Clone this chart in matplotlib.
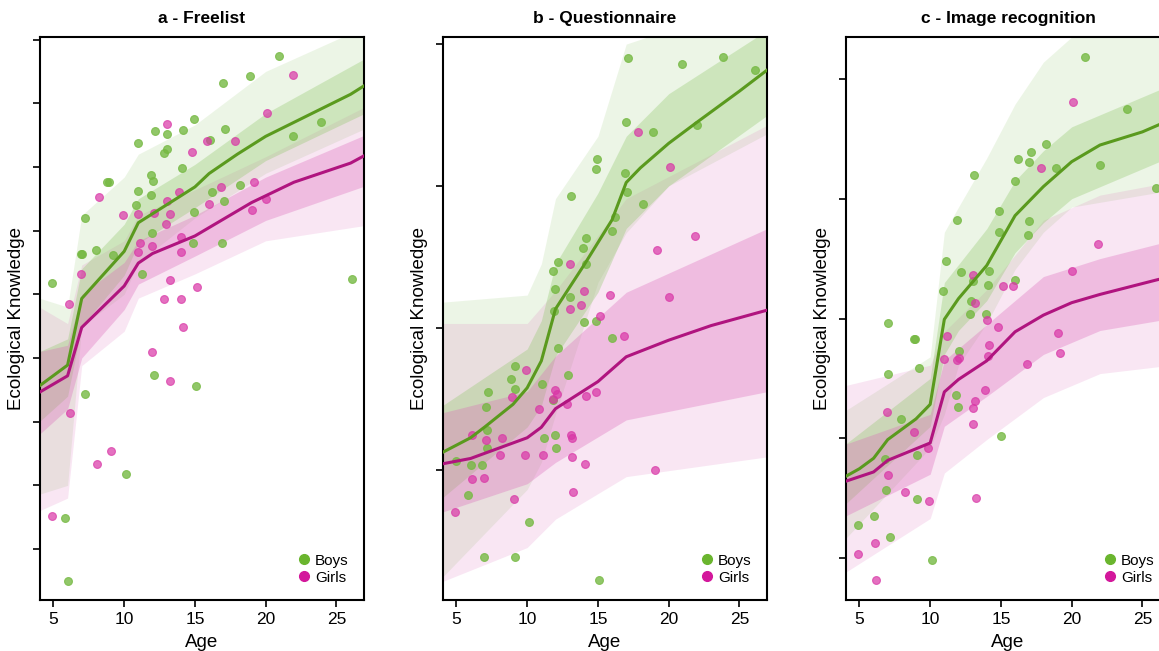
import matplotlib
matplotlib.use("Agg")
import matplotlib.pyplot as plt
from matplotlib.lines import Line2D
import numpy as np

plt.rcParams['font.family'] = ['Liberation Sans', 'DejaVu Sans']

# ---- a - Freelist ----
a_boys_age = [20.95, 18.88, 16.95, 14.93, 12.18, 13.05, 14.15, 17.12, 23.89, 21.96,
              16.06, 10.98, 13.0, 12.81, 14.11, 11.87, 12.06, 8.93, 8.81, 18.18,
              10.98, 11.87, 16.22, 10.86, 17.05, 7.21, 14.91, 11.96, 7.99, 7.05,
              6.93, 9.21, 14.88, 16.91, 11.24, 4.93, 26.13, 12.13, 15.07, 7.21,
              10.1, 5.85, 6.06]
a_boys_val = [1.87, 1.71, 1.66, 1.38, 1.28, 1.26, 1.29, 1.30, 1.35, 1.24,
              1.21, 1.19, 1.14, 1.11, 0.99, 0.94, 0.89, 0.88, 0.88, 0.86,
              0.81, 0.78, 0.80, 0.70, 0.73, 0.60, 0.65, 0.48, 0.35, 0.32,
              0.32, 0.31, 0.40, 0.40, 0.16, 0.09, 0.12, -0.63, -0.72, -0.78,
              -1.41, -1.76, -2.25]
a_girls_age = [21.92, 20.08, 13.02, 15.87, 17.85, 14.81, 19.19, 16.84, 13.85, 8.2,
               19.99, 13.05, 15.96, 19.0, 12.13, 13.21, 10.95, 9.92, 12.98, 14.04,
               11.12, 11.94, 14.01, 10.98, 6.98, 13.21, 15.16, 12.81, 14.01, 6.1,
               14.13, 11.94, 13.21, 6.15, 9.09, 8.1, 4.88]
a_girls_val = [1.72, 1.42, 1.34, 1.20, 1.20, 1.12, 0.88, 0.84, 0.80, 0.76,
               0.75, 0.73, 0.71, 0.66, 0.64, 0.63, 0.63, 0.62, 0.55, 0.45,
               0.40, 0.38, 0.33, 0.33, 0.16, 0.11, 0.06, -0.04, -0.04, -0.08,
               -0.26, -0.45, -0.68, -0.93, -1.23, -1.33, -1.74]
a_boys_mean_age = [4, 6, 7, 10, 11, 15, 16, 18, 20, 26, 27]
a_boys_mean = [-0.72, -0.556, -0.033, 0.337, 0.562, 0.843, 0.948, 1.10, 1.24, 1.57, 1.64]
a_girls_mean_age = [4, 6, 7, 10, 11, 12, 15, 19, 22, 26, 27]
a_girls_mean = [-0.77, -0.64, -0.26, 0.065, 0.245, 0.32, 0.458, 0.72, 0.88, 1.03, 1.09]
a_band_age = [4, 6, 7, 10, 11, 15, 20, 27]
a_boys_outer = ([-1.57, -1.50, -0.25, 0.00, 0.25, 0.60, 0.95, 1.30],
                [-0.03, -0.10, 0.62, 0.92, 1.10, 1.33, 1.75, 2.10])
a_boys_inner = ([-1.00, -0.80, -0.25, 0.15, 0.40, 0.68, 1.05, 1.42],
                [-0.45, -0.35, 0.20, 0.55, 0.75, 1.02, 1.42, 1.85])
a_girls_outer = ([-1.70, -1.60, -0.56, -0.29, -0.03, 0.16, 0.42, 0.54],
                 [-0.10, -0.23, 0.23, 0.42, 0.62, 0.82, 1.08, 1.47])
a_girls_inner = ([-1.10, -0.90, -0.50, -0.12, 0.08, 0.30, 0.58, 0.85],
                 [-0.45, -0.40, 0.00, 0.25, 0.42, 0.62, 0.92, 1.25])

# ---- b - Questionnaire ----
b_boys_age = [17.12, 20.93, 23.87, 26.13, 16.95, 18.88, 21.99, 14.93, 14.84, 13.09,
              16.88, 17.07, 18.2, 16.01, 16.22, 14.18, 13.92, 12.2, 11.85, 11.99,
              14.13, 13.05, 11.89, 14.04, 14.88, 15.96, 12.15, 9.14, 8.86, 9.14,
              7.21, 7.07, 12.88, 11.02, 11.85, 7.19, 7.19, 11.19, 11.96, 12.04,
              6.06, 6.79, 4.95, 5.85, 10.13, 6.93, 9.12, 15.05]
b_boys_val = [1.90, 1.86, 1.91, 1.82, 1.45, 1.38, 1.43, 1.19, 1.12, 0.93,
              1.09, 0.96, 0.87, 0.68, 0.78, 0.63, 0.56, 0.46, 0.40, 0.27,
              0.45, 0.22, 0.12, 0.04, 0.05, -0.07, -0.14, -0.27, -0.36, -0.43,
              -0.45, -0.56, -0.33, -0.40, -0.51, -0.72, -0.85, -0.78, -0.76, -0.85,
              -0.97, -0.97, -0.94, -1.18, -1.37, -1.62, -1.62, -1.78]
b_girls_age = [17.85, 20.11, 21.89, 19.16, 20.01, 15.85, 14.01, 13.82, 13.02, 13.0,
               15.14, 16.84, 9.92, 8.91, 11.96, 12.11, 11.82, 12.84, 14.13, 14.84,
               10.86, 6.11, 7.09, 8.2, 13.07, 13.19, 8.08, 9.85, 11.12, 13.19,
               14.11, 6.11, 6.98, 19.02, 13.21, 9.07, 4.91]
b_girls_val = [1.38, 1.13, 0.65, 0.55, 0.22, 0.23, 0.26, 0.16, 0.45, 0.13,
               0.08, -0.06, -0.30, -0.49, -0.44, -0.47, -0.50, -0.54, -0.48, -0.45,
               -0.57, -0.76, -0.79, -0.78, -0.76, -0.78, -0.90, -0.90, -0.90, -0.91,
               -0.96, -1.07, -1.06, -1.00, -1.16, -1.21, -1.30]
b_boys_mean_age = [4, 6, 7, 9, 10, 11, 12, 14, 16, 17, 18, 20, 22, 25, 27]
b_boys_mean = [-0.88, -0.776, -0.70, -0.54, -0.424, -0.234, 0.132, 0.439, 0.761,
               1.024, 1.127, 1.30, 1.449, 1.668, 1.82]
b_girls_mean_age = [4, 6, 8, 10, 11, 12, 15, 17, 20, 23, 27]
b_girls_mean = [-0.96, -0.922, -0.849, -0.776, -0.702, -0.571, -0.380, -0.205,
                -0.088, 0.015, 0.125]
b_boys_band_age = [4, 10, 11, 12, 15, 17, 20, 27]
b_boys_outer = ([-1.76, -1.14, -0.95, -0.61, 0.32, 0.67, 1.00, 1.37],
                [0.18, 0.23, 0.45, 0.91, 1.35, 2.00, 2.10, 2.10])
b_boys_inner = ([-1.20, -0.70, -0.55, -0.20, 0.25, 0.70, 1.00, 1.50],
                [-0.55, -0.15, 0.05, 0.45, 0.95, 1.35, 1.65, 2.10])
b_girls_band_age = [4, 10, 12, 17, 27]
b_girls_outer = ([-1.79, -1.55, -1.35, -1.05, -0.91],
                 [0.03, 0.03, 0.26, 0.91, 1.43])
b_girls_inner = ([-1.30, -1.10, -0.95, -0.65, -0.45],
                 [-0.60, -0.45, -0.20, 0.25, 0.70])

# ---- c - Image recognition ----
c_boys_age = [20.91, 23.89, 18.2, 17.12, 17.0, 16.2, 18.88, 21.99, 25.99, 13.07,
              16.01, 14.88, 11.89, 14.84, 16.95, 16.88, 11.12, 12.18, 14.13, 13.0,
              14.06, 15.99, 10.93, 12.91, 12.81, 13.92, 7.02, 8.88, 8.93, 12.06,
              7.05, 9.19, 11.85, 11.99, 7.94, 9.09, 6.84, 15.02, 6.91, 9.07,
              6.06, 4.93, 7.16, 10.13]
c_boys_val = [2.18, 1.75, 1.46, 1.39, 1.31, 1.33, 1.26, 1.28, 1.09, 1.20,
              1.15, 0.90, 0.82, 0.72, 0.81, 0.70, 0.48, 0.39, 0.40, 0.31,
              0.28, 0.32, 0.23, 0.15, 0.04, 0.04, -0.04, -0.17, -0.17, -0.27,
              -0.46, -0.41, -0.64, -0.74, -0.84, -1.14, -1.17, -0.98, -1.43, -1.51,
              -1.65, -1.72, -1.82, -2.02]
c_girls_age = [20.08, 17.85, 21.89, 20.01, 15.14, 15.87, 13.0, 13.19, 13.99, 14.81,
               14.13, 14.08, 19.0, 19.19, 16.84, 11.87, 12.01, 11.16, 10.95, 13.85,
               13.19, 13.02, 13.0, 6.95, 8.88, 9.85, 7.0, 8.2, 9.94, 13.21,
               6.11, 4.88, 6.15]
c_girls_val = [1.81, 1.26, 0.62, 0.40, 0.27, 0.27, 0.36, 0.13, -0.01, -0.07,
               -0.22, -0.31, -0.12, -0.29, -0.38, -0.35, -0.33, -0.15, -0.34, -0.60,
               -0.69, -0.75, -0.88, -0.78, -0.95, -1.08, -1.31, -1.45, -1.52, -1.50,
               -1.87, -1.97, -2.18]
c_boys_mean_age = [4, 5, 6, 7, 9, 10, 11, 12, 14, 16, 18, 20, 22, 25, 27]
c_boys_mean = [-1.32, -1.254, -1.167, -1.011, -0.838, -0.717, -0.007, 0.166, 0.443,
               0.859, 1.101, 1.309, 1.448, 1.558, 1.66]
c_girls_mean_age = [4, 6, 7, 10, 11, 12, 14, 16, 18, 20, 22, 26, 27]
c_girls_mean = [-1.36, -1.281, -1.184, -1.039, -0.613, -0.509, -0.353, -0.111,
                0.028, 0.132, 0.201, 0.322, 0.35]
c_boys_band_age = [4, 10, 11, 12, 14, 16, 18, 20, 27]
c_boys_outer = ([-1.84, -1.08, -0.80, -0.39, -0.04, 0.41, 0.72, 0.93, 1.07],
                [-0.77, -0.32, 0.72, 0.93, 1.34, 1.79, 2.14, 2.35, 2.45])
c_boys_inner = ([-1.55, -0.90, -0.30, -0.10, 0.15, 0.55, 0.80, 1.00, 1.35],
                [-1.05, -0.50, 0.30, 0.45, 0.75, 1.15, 1.40, 1.60, 1.95])
c_girls_band_age = [4, 10, 11, 14, 18, 22, 27]
c_girls_outer = ([-2.12, -1.67, -1.29, -1.01, -0.66, -0.46, -0.39],
                 [-0.56, -0.39, -0.11, 0.24, 0.82, 1.03, 1.14])
c_girls_inner = ([-1.65, -1.30, -0.90, -0.65, -0.30, -0.10, 0.00],
                 [-1.05, -0.80, -0.35, -0.05, 0.35, 0.50, 0.65])

titles = ['a - Freelist', 'b - Questionnaire', 'c - Image recognition']
yticks = [np.arange(-2, 2.01, 0.5), [-1, 0, 1, 2], [-2, -1, 0, 1, 2]]
ylims = [(-2.40, 2.02), (-1.92, 2.05), (-2.35, 2.35)]
xticks = [5, 10, 15, 20, 25]

green_line, green_pt, green_band = '#5a9a1e', '#76b943', '#8cc665'
pink_line, pink_pt, pink_band = '#b0147f', '#d935a6', '#db66b9'

panels = [
    (a_boys_age, a_boys_val, a_girls_age, a_girls_val,
     a_boys_mean_age, a_boys_mean, a_girls_mean_age, a_girls_mean,
     a_band_age, a_boys_outer, a_boys_inner, a_band_age, a_girls_outer, a_girls_inner),
    (b_boys_age, b_boys_val, b_girls_age, b_girls_val,
     b_boys_mean_age, b_boys_mean, b_girls_mean_age, b_girls_mean,
     b_boys_band_age, b_boys_outer, b_boys_inner, b_girls_band_age, b_girls_outer, b_girls_inner),
    (c_boys_age, c_boys_val, c_girls_age, c_girls_val,
     c_boys_mean_age, c_boys_mean, c_girls_mean_age, c_girls_mean,
     c_boys_band_age, c_boys_outer, c_boys_inner, c_girls_band_age, c_girls_outer, c_girls_inner),
]

fig = plt.figure(figsize=(11.59, 6.51), dpi=100)
lefts = [40 / 1159, 443 / 1159, 846 / 1159]

for i, p in enumerate(panels):
    (bx, by, gx, gy, bma, bm, gma, gm,
     bba, bout, binn, gba, gout, ginn) = p
    ax = fig.add_axes([lefts[i], 51 / 651, 324 / 1159, 563 / 651])

    # posterior spread: faint outer band, denser inner band
    ax.fill_between(bba, bout[0], bout[1], color=green_band, alpha=0.16, lw=0, zorder=1)
    ax.fill_between(gba, gout[0], gout[1], color=pink_band, alpha=0.16, lw=0, zorder=1)
    ax.fill_between(bba, binn[0], binn[1], color=green_band, alpha=0.32, lw=0, zorder=2)
    ax.fill_between(gba, ginn[0], ginn[1], color=pink_band, alpha=0.32, lw=0, zorder=2)

    ax.scatter(bx, by, s=32, color=green_pt, alpha=0.8, edgecolor=green_pt, lw=0.8, zorder=3)
    ax.scatter(gx, gy, s=32, color=pink_pt, alpha=0.7, edgecolor=pink_pt, lw=0.8, zorder=3)

    ax.plot(bma, bm, color=green_line, lw=2.2, zorder=4)
    ax.plot(gma, gm, color=pink_line, lw=2.2, zorder=4)

    ax.set_xlim(4.05, 26.95)
    ax.set_ylim(*ylims[i])
    ax.set_xticks(xticks)
    ax.set_yticks(yticks[i])
    ax.set_yticklabels([])
    ax.tick_params(axis='both', direction='out', length=5, width=1.2, labelsize=12.5)
    for s in ax.spines.values():
        s.set_linewidth(1.5)
    ax.set_title(titles[i], fontsize=12.5, fontweight='bold', pad=10)
    ax.set_xlabel('Age', fontsize=13.5, labelpad=5)
    ax.set_ylabel('Ecological Knowledge', fontsize=13.5)
    ax.yaxis.set_label_coords(-15 / 324, 0.5)

    handles = [Line2D([], [], ls='', marker='o', ms=7, color='#6ab52e', label='Boys'),
               Line2D([], [], ls='', marker='o', ms=7, color='#d3179b', label='Girls')]
    ax.legend(handles=handles, loc='lower right', frameon=False, fontsize=11,
              handlelength=1.0, handletextpad=0.2, labelspacing=0.2, borderaxespad=0.6)

fig.savefig('out.png', dpi=100)
